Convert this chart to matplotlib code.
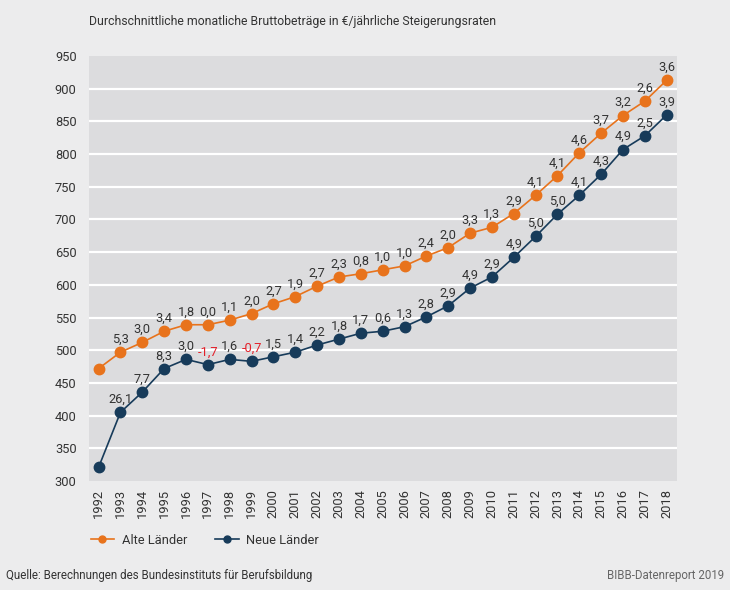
import matplotlib
matplotlib.use("Agg")
import matplotlib.pyplot as plt
from matplotlib.lines import Line2D

plt.rcParams["font.family"] = ["Roboto", "DejaVu Sans"]

years = list(range(1992, 2019))

alte = [472, 497, 512, 529, 539, 539, 546, 556, 571, 582, 598, 612, 617, 623,
        629, 644, 657, 679, 688, 709, 737, 767, 802, 832, 859, 881, 913]
neue = [321, 405, 436, 472, 486, 478, 486, 483, 490, 497, 508, 517, 526, 529,
        536, 551, 568, 595, 612, 642, 674, 708, 737, 769, 807, 828, 860]

alte_rates = ["", "5,3", "3,0", "3,4", "1,8", "0,0", "1,1", "2,0", "2,7", "1,9",
              "2,7", "2,3", "0,8", "1,0", "1,0", "2,4", "2,0", "3,3", "1,3",
              "2,9", "4,1", "4,1", "4,6", "3,7", "3,2", "2,6", "3,6"]
neue_rates = ["", "26,1", "7,7", "8,3", "3,0", "-1,7", "1,6", "-0,7", "1,5",
              "1,4", "2,2", "1,8", "1,7", "0,6", "1,3", "2,8", "2,9", "4,9",
              "2,9", "4,9", "5,0", "5,0", "4,1", "4,3", "4,9", "2,5", "3,9"]

yticks = [300, 350, 400, 450, 500, 550, 600, 650, 700, 750, 800, 850, 900, 950]

orange = "#e8731c"
navy = "#173b5a"
red = "#e3202a"
txt = "#333333"
bg = "#ececed"
panel = "#dcdcde"
fs = 9.3

fig = plt.figure(figsize=(7.3, 5.9), dpi=100, facecolor=bg)
ax = fig.add_axes([89 / 730, 1 - 481 / 590, 588 / 730, 425 / 590])
ax.set_facecolor(panel)

ax.set_xlim(1991.56, 2018.47)
ax.set_ylim(304.5, 945)
ax.set_yticks(yticks)
ax.set_yticklabels([str(v) for v in yticks])
ax.set_xticks(years)
ax.set_xticklabels([str(y) for y in years], rotation=90)
ax.tick_params(length=0, labelsize=fs, colors=txt, pad=6)
ax.tick_params(axis="y", pad=9)
for s in ax.spines.values():
    s.set_visible(False)
for v in yticks[1:-1]:
    ax.axhline(v, color="white", lw=1.6, zorder=1)

ax.plot(years, alte, color=orange, lw=1.2, marker="o", ms=7.5, zorder=3)
ax.plot(years, neue, color=navy, lw=1.2, marker="o", ms=7.5, zorder=3)

for x, y, t in zip(years, alte, alte_rates):
    if t:
        ax.annotate(t, (x, y), xytext=(0, 4.5), textcoords="offset points",
                    ha="center", va="bottom", fontsize=fs, color=txt)
for x, y, t in zip(years, neue, neue_rates):
    if t:
        c = red if t.startswith("-") else txt
        ax.annotate(t, (x, y), xytext=(0, 4.5), textcoords="offset points",
                    ha="center", va="bottom", fontsize=fs, color=c)

fig.text(89 / 730, 1 - 22 / 590, "Durchschnittliche monatliche Bruttobeträge in €/jährliche Steigerungsraten",
         fontsize=8.8, color=txt, va="center", ha="left")

handles = [
    Line2D([], [], color=orange, lw=1.2, marker="o", ms=5),
    Line2D([], [], color=navy, lw=1.2, marker="o", ms=5),
]
fig.legend(handles, ["Alte Länder", "Neue Länder"], loc="center left",
           bbox_to_anchor=(79 / 730, 1 - 540 / 590), ncol=2, frameon=False,
           fontsize=fs, labelcolor=txt, handlelength=1.8, columnspacing=2.2,
           handletextpad=0.6)

fig.text(6 / 730, 1 - 575 / 590, "Quelle: Berechnungen des Bundesinstituts für Berufsbildung",
         fontsize=8.3, color=txt, va="center", ha="left")
fig.text(724 / 730, 1 - 575 / 590, "BIBB-Datenreport 2019",
         fontsize=8.3, color="#666666", va="center", ha="right")

fig.savefig("out.png", dpi=100, facecolor=bg)
